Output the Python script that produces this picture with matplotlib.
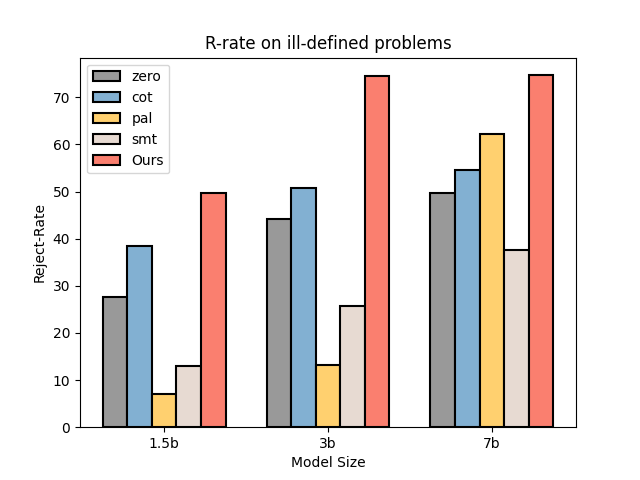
import numpy as np
import matplotlib.pyplot as plt

sizes = ["1.5b", "3b", "7b"]
methods = ["zero", "cot", "pal", "smt", "Ours"]
zero = [27.6, 44.2, 49.7]
cot = [38.5, 50.8, 54.6]
pal = [7.1, 13.3, 62.2]
smt = [13.0, 25.7, 37.6]
ours = [49.7, 74.6, 74.7]
colors = ["#999999", "#82B0D2", "#FFD06F", "#E7DAD2", "#FA7F6F"]

x = np.arange(len(sizes))
width = 0.15

fig, ax = plt.subplots(figsize=(6.4, 4.8))
for i, (name, vals) in enumerate(zip(methods, [zero, cot, pal, smt, ours])):
    ax.bar(x + (i - 2) * width, vals, width, label=name, color=colors[i],
           edgecolor='black', linewidth=1.5)

ax.set_xticks(x)
ax.set_xticklabels(sizes)
ax.set_xlabel("Model Size")
ax.set_ylabel("Reject-Rate")
ax.set_title("R-rate on ill-defined problems")
ax.legend(loc='upper left')
plt.savefig("out.png", dpi=100)
